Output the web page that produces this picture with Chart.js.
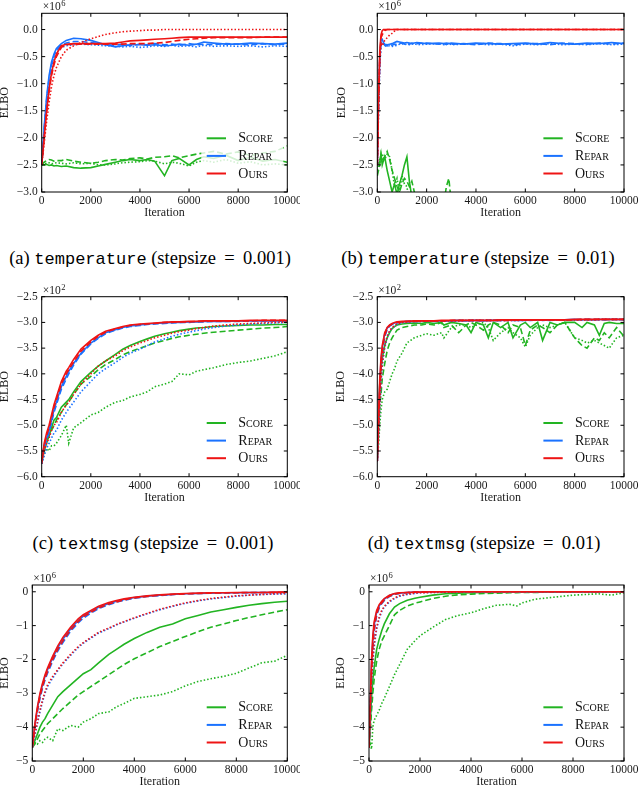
<!DOCTYPE html>
<html><head><meta charset="utf-8">
<script src="https://cdn.jsdelivr.net/npm/chart.js@4.4.1/dist/chart.umd.min.js"></script>
<style>
html,body{margin:0;padding:0;background:#fff;overflow:hidden;}
#fig{position:relative;width:640px;height:787px;overflow:hidden;background:#fff;}
canvas{position:absolute;}
.cap{position:absolute;font-family:'Liberation Serif','Times New Roman',serif;font-size:18.5px;white-space:nowrap;transform:translateX(-50%);color:#000;line-height:20px;}
.cap .tt{font-family:'Liberation Mono','Courier New',monospace;font-size:17px;}
</style></head><body>
<div id="fig">
<canvas id="pa"></canvas><canvas id="pb"></canvas>
<canvas id="pc"></canvas><canvas id="pd"></canvas>
<canvas id="pe"></canvas><canvas id="pf"></canvas>
<div class="cap" style="left:150px;top:248px">(a) <span class="tt">temperature</span> (stepsize&#8201; = &#8201;0.001)</div>
<div class="cap" style="left:478px;top:248px">(b) <span class="tt">temperature</span> (stepsize&#8201; = &#8201;0.01)</div>
<div class="cap" style="left:153px;top:533px">(c) <span class="tt">textmsg</span> (stepsize&#8201; = &#8201;0.001)</div>
<div class="cap" style="left:484px;top:533px">(d) <span class="tt">textmsg</span> (stepsize&#8201; = &#8201;0.01)</div>
</div>
<script>
// ---------- common ----------
const methodNames = ['Score', 'Repar', 'Ours'];
const styleNames = ['solid', 'dashed', 'dotted'];
const xTickLabels = ['0', '2000', '4000', '6000', '8000', '10000'];
const yTicksTemperature = [-3.0, -2.5, -2.0, -1.5, -1.0, -0.5, 0.0];
const yTicksTextmsg = [-6.0, -5.5, -5.0, -4.5, -4.0, -3.5, -3.0, -2.5];
const yTicksThird = [-5, -4, -3, -2, -1, 0];

// ---------- (a) temperature, stepsize 0.001 (x1e6) ----------
const aIter = [0,100,200,300,400,500,600,800,1000,1300,1600,2000,2300,2600,3000,3300,3600,4000,4300,4600,5000,5300,5600,6000,6300,6600,7000,7500,8000,8500,9000,9500,10000];
const aScoreSolid  = [-2.5,-2.5,-2.49,-2.51,-2.5,-2.52,-2.51,-2.53,-2.52,-2.55,-2.56,-2.55,-2.52,-2.49,-2.45,-2.42,-2.4,-2.42,-2.4,-2.43,-2.7,-2.42,-2.38,-2.5,-2.4,-2.35,-2.38,-2.32,-2.42,-2.36,-2.43,-2.4,-2.45];
const aScoreDashed = [-2.5,-2.45,-2.42,-2.4,-2.41,-2.43,-2.42,-2.42,-2.4,-2.43,-2.45,-2.47,-2.45,-2.42,-2.4,-2.41,-2.38,-2.37,-2.39,-2.36,-2.35,-2.33,-2.37,-2.33,-2.3,-2.28,-2.25,-2.3,-2.26,-2.33,-2.28,-2.25,-2.15];
const aScoreDotted = [-2.5,-2.48,-2.47,-2.46,-2.48,-2.47,-2.46,-2.47,-2.48,-2.46,-2.48,-2.47,-2.5,-2.5,-2.48,-2.46,-2.45,-2.44,-2.42,-2.43,-2.48,-2.45,-2.47,-2.52,-2.45,-2.42,-2.45,-2.4,-2.47,-2.44,-2.5,-2.48,-2.5];
const aReparSolid  = [-2.5,-1.8,-1.25,-0.85,-0.6,-0.45,-0.35,-0.26,-0.2,-0.16,-0.17,-0.2,-0.24,-0.28,-0.32,-0.3,-0.28,-0.28,-0.29,-0.28,-0.3,-0.29,-0.27,-0.29,-0.27,-0.23,-0.25,-0.27,-0.27,-0.25,-0.26,-0.27,-0.25];
const aReparDashed = [-2.5,-1.85,-1.3,-0.9,-0.65,-0.48,-0.38,-0.29,-0.25,-0.22,-0.22,-0.24,-0.26,-0.28,-0.29,-0.27,-0.3,-0.27,-0.28,-0.26,-0.28,-0.27,-0.29,-0.26,-0.28,-0.27,-0.28,-0.26,-0.27,-0.28,-0.26,-0.28,-0.27];
const aReparDotted = [-2.5,-1.9,-1.4,-1.0,-0.72,-0.55,-0.43,-0.33,-0.3,-0.28,-0.27,-0.28,-0.29,-0.3,-0.31,-0.32,-0.31,-0.33,-0.32,-0.3,-0.31,-0.29,-0.31,-0.3,-0.32,-0.29,-0.31,-0.3,-0.31,-0.3,-0.32,-0.3,-0.31];
const aOursSolid   = [-2.5,-2.0,-1.5,-1.1,-0.8,-0.6,-0.45,-0.3,-0.27,-0.26,-0.26,-0.26,-0.26,-0.26,-0.25,-0.23,-0.21,-0.2,-0.19,-0.18,-0.17,-0.16,-0.15,-0.14,-0.14,-0.14,-0.14,-0.14,-0.14,-0.14,-0.14,-0.14,-0.14];
const aOursDashed  = [-2.5,-2.0,-1.55,-1.15,-0.85,-0.65,-0.5,-0.33,-0.28,-0.27,-0.27,-0.27,-0.27,-0.27,-0.27,-0.27,-0.26,-0.26,-0.26,-0.25,-0.24,-0.22,-0.2,-0.18,-0.17,-0.16,-0.15,-0.15,-0.15,-0.15,-0.14,-0.14,-0.14];
const aOursDotted  = [-2.5,-2.1,-1.7,-1.35,-1.05,-0.85,-0.7,-0.5,-0.38,-0.3,-0.24,-0.17,-0.13,-0.09,-0.06,-0.04,-0.03,-0.02,-0.01,-0.01,0,0,0,0,0,0,0,0,0,0,0,0,0];

// ---------- (b) temperature, stepsize 0.01 (x1e6) ----------
const bIter = [0,50,100,150,200,250,300,400,500,600,700,800,900,1000,1100,1200,1300,1400,1500,1600,2000,2500,2700,2800,2900,3000,3500,4000,4500,5000,5500,6000,6500,7000,7500,8000,8500,9000,9500,10000];
const bScoreSolid  = [-2.5,-2.48,-2.45,-2.3,-2.5,-2.42,-2.35,-2.6,-2.8,-3.0,-2.85,-3.05,-2.85,-2.7,-2.5,-2.35,-2.8,-3.1,-3.5,null,null,null,null,null,null,null,null,null,null,null,null,null,null,null,null,null,null,null,null,null];
const bScoreDashed = [-2.7,-2.6,-2.5,-2.3,-2.4,-2.38,-2.35,-2.25,-2.4,-2.6,-2.75,-2.9,-3.0,-2.85,-2.75,-2.8,-2.9,-2.8,-3.0,-3.3,null,null,-3.2,-2.9,-2.75,-3.2,null,null,null,null,null,null,null,null,null,null,null,null,null,null];
const bScoreDotted = [-2.6,-2.5,-2.4,-2.35,-2.3,-2.35,-2.4,-2.3,-2.35,-2.6,-2.9,-2.75,-3.0,-2.7,-2.85,-2.9,-3.2,null,null,null,null,null,null,null,null,null,null,null,null,null,null,null,null,null,null,null,null,null,null,null];
const bReparSolid  = [-2.5,-1.3,-0.5,-0.2,-0.18,-0.24,-0.27,-0.28,-0.27,-0.26,-0.24,-0.22,-0.23,-0.24,-0.25,-0.24,-0.25,-0.26,-0.25,-0.24,-0.26,-0.25,-0.26,-0.25,-0.26,-0.25,-0.27,-0.25,-0.26,-0.27,-0.26,-0.25,-0.27,-0.24,-0.26,-0.27,-0.25,-0.26,-0.24,-0.26];
const bReparDashed = [-2.5,-1.4,-0.6,-0.25,-0.22,-0.26,-0.29,-0.3,-0.28,-0.29,-0.27,-0.28,-0.26,-0.25,-0.27,-0.26,-0.27,-0.25,-0.27,-0.26,-0.25,-0.27,-0.26,-0.28,-0.25,-0.27,-0.26,-0.28,-0.25,-0.26,-0.28,-0.26,-0.26,-0.28,-0.25,-0.26,-0.27,-0.25,-0.27,-0.25];
const bReparDotted = [-2.5,-1.5,-0.7,-0.3,-0.25,-0.27,-0.3,-0.31,-0.3,-0.31,-0.3,-0.29,-0.27,-0.26,-0.28,-0.27,-0.28,-0.27,-0.26,-0.28,-0.27,-0.26,-0.28,-0.27,-0.26,-0.28,-0.27,-0.26,-0.28,-0.27,-0.3,-0.27,-0.28,-0.26,-0.28,-0.27,-0.28,-0.26,-0.28,-0.27];
const bOursSolid   = [-2.5,-1.2,-0.4,-0.1,-0.02,0,0,0,0,0,0,0,0,0,0,0,0,0,0,0,0,0,0,0,0,0,0,0,0,0,0,0,0,0,0,0,0,0,0,0];
const bOursDashed  = [-2.5,-1.4,-0.5,-0.15,-0.1,-0.05,-0.02,0,0,0,0,0,0,0,0,0,0,0,0,0,0,0,0,0,0,0,0,0,0,0,0,0,0,0,0,0,0,0,0,0];
const bOursDotted  = [-2.5,-1.5,-0.6,-0.25,-0.3,-0.25,-0.2,-0.15,-0.1,-0.07,-0.03,0,0,0,0,0,0,0,0,0,0,0,0,0,0,0,0,0,0,0,0,0,0,0,0,0,0,0,0,0];

// ---------- (c) textmsg, stepsize 0.001 (x1e2) ----------
const cIter = [0,100,200,300,400,500,600,800,1000,1100,1300,1600,2000,2300,2600,3000,3300,3600,4000,4300,4600,5000,5300,5600,6000,6300,6600,7000,7500,8000,8500,9000,9500,10000];
const cScoreSolid  = [-5.7,-5.5,-5.35,-5.2,-5.05,-4.9,-4.85,-4.65,-4.55,-4.5,-4.35,-4.15,-3.97,-3.85,-3.75,-3.62,-3.52,-3.45,-3.37,-3.32,-3.27,-3.22,-3.19,-3.16,-3.13,-3.11,-3.1,-3.08,-3.07,-3.06,-3.05,-3.05,-3.04,-3.04];
const cScoreDashed = [-5.6,-5.4,-5.3,-5.2,-5.1,-5.0,-4.9,-4.75,-4.6,-4.55,-4.4,-4.2,-4.05,-3.92,-3.82,-3.72,-3.63,-3.57,-3.5,-3.45,-3.4,-3.35,-3.31,-3.28,-3.25,-3.23,-3.21,-3.19,-3.17,-3.15,-3.13,-3.11,-3.1,-3.08];
const cScoreDotted = [-5.75,-5.55,-5.45,-5.5,-5.4,-5.4,-5.35,-5.2,-5.0,-5.35,-5.05,-4.95,-4.8,-4.75,-4.65,-4.55,-4.52,-4.45,-4.4,-4.35,-4.25,-4.2,-4.15,-4.0,-4.02,-3.95,-3.92,-3.88,-3.82,-3.78,-3.75,-3.7,-3.65,-3.57];
const cReparSolid  = [-5.7,-5.4,-5.25,-5.1,-4.9,-4.7,-4.55,-4.25,-4.05,-3.95,-3.8,-3.6,-3.4,-3.3,-3.2,-3.14,-3.1,-3.07,-3.05,-3.03,-3.02,-3.01,-3.0,-3.0,-2.99,-2.99,-2.98,-2.98,-2.98,-2.97,-2.97,-2.97,-2.97,-2.97];
const cReparDashed = [-5.75,-5.45,-5.3,-5.15,-4.95,-4.75,-4.6,-4.3,-4.1,-4.0,-3.83,-3.62,-3.42,-3.31,-3.22,-3.15,-3.11,-3.08,-3.06,-3.04,-3.03,-3.02,-3.01,-3.0,-3.0,-2.99,-2.99,-2.98,-2.98,-2.98,-2.97,-2.97,-2.97,-2.97];
const cReparDotted = [-5.75,-5.6,-5.45,-5.35,-5.25,-5.15,-5.1,-4.9,-4.75,-4.68,-4.55,-4.35,-4.15,-4.0,-3.9,-3.78,-3.68,-3.6,-3.52,-3.45,-3.38,-3.32,-3.27,-3.23,-3.19,-3.16,-3.13,-3.1,-3.07,-3.05,-3.03,-3.02,-3.01,-3.0];
const cOursSolid   = [-5.75,-5.35,-5.15,-5.0,-4.8,-4.6,-4.45,-4.15,-3.95,-3.88,-3.72,-3.52,-3.35,-3.25,-3.17,-3.12,-3.08,-3.05,-3.03,-3.02,-3.01,-3.0,-2.99,-2.99,-2.98,-2.98,-2.97,-2.97,-2.97,-2.97,-2.96,-2.96,-2.96,-2.96];
const cOursDashed  = [-5.7,-5.4,-5.2,-5.05,-4.85,-4.65,-4.5,-4.2,-4.0,-3.92,-3.77,-3.56,-3.38,-3.27,-3.19,-3.13,-3.09,-3.06,-3.04,-3.03,-3.02,-3.0,-3.0,-2.99,-2.99,-2.98,-2.98,-2.97,-2.97,-2.97,-2.97,-2.96,-2.96,-2.96];
const cOursDotted  = [-5.7,-5.5,-5.35,-5.25,-5.1,-5.0,-4.95,-4.75,-4.6,-4.55,-4.4,-4.2,-4.0,-3.85,-3.75,-3.65,-3.55,-3.48,-3.4,-3.35,-3.3,-3.25,-3.21,-3.18,-3.15,-3.12,-3.1,-3.07,-3.05,-3.03,-3.02,-3.01,-3.0,-2.99];

// ---------- (d) textmsg, stepsize 0.01 (x1e2) ----------
const dIter = [0,50,100,150,200,300,400,500,600,700,800,1000,1200,1500,1800,2000,2300,2600,2700,3000,3300,3600,3800,4000,4300,4500,4700,5000,5300,5500,5800,6000,6200,6500,6700,7000,7300,7600,8000,8300,8500,8800,9000,9200,9400,9700,10000];
const dScoreSolid  = [-5.6,-4.8,-4.2,-3.9,-3.7,-3.45,-3.3,-3.2,-3.12,-3.08,-3.05,-3.03,-3.02,-3.01,-3.02,-3.0,-3.02,-3.0,-3.05,-3.0,-3.02,-3.05,-3.2,-3.0,-3.05,-3.3,-3.0,-3.1,-3.0,-3.3,-3.05,-3.0,-3.1,-3.0,-3.35,-3.0,-3.05,-3.0,-3.0,-3.1,-3.0,-3.05,-3.25,-3.02,-3.0,-3.02,-3.02];
const dScoreDashed = [-5.6,-5.0,-4.6,-4.4,-4.1,-3.8,-3.55,-3.4,-3.3,-3.22,-3.15,-3.1,-3.08,-3.05,-3.05,-3.03,-3.05,-3.0,-3.1,-3.05,-3.2,-3.05,-3.0,-3.05,-3.15,-3.05,-3.0,-3.05,-3.2,-3.05,-3.1,-3.45,-3.15,-3.05,-3.1,-3.2,-3.05,-3.0,-3.3,-3.45,-3.5,-3.3,-3.35,-3.2,-3.3,-3.1,-3.27];
const dScoreDotted = [-5.65,-5.4,-5.0,-4.7,-4.5,-4.35,-4.3,-4.15,-4.0,-3.9,-3.75,-3.6,-3.4,-3.3,-3.25,-3.22,-3.25,-3.2,-3.3,-3.1,-3.05,-3.05,-3.1,-3.05,-3.0,-3.1,-3.35,-3.2,-3.1,-3.2,-3.3,-3.48,-3.25,-3.1,-3.05,-3.1,-3.05,-3.0,-3.3,-3.35,-3.4,-3.35,-3.4,-3.45,-3.5,-3.3,-3.25];
const dReparSolid  = [-5.7,-4.9,-4.2,-3.75,-3.5,-3.22,-3.11,-3.06,-3.03,-3.01,-3.0,-2.99,-2.98,-2.98,-2.97,-2.97,-2.97,-2.97,-2.97,-2.97,-2.96,-2.97,-2.96,-2.96,-2.97,-2.96,-2.96,-2.96,-2.95,-2.96,-2.96,-2.95,-2.96,-2.95,-2.95,-2.96,-2.95,-2.95,-2.94,-2.95,-2.94,-2.95,-2.94,-2.95,-2.94,-2.94,-2.95];
const dReparDashed = [-5.7,-5.0,-4.35,-3.9,-3.6,-3.28,-3.14,-3.07,-3.04,-3.02,-3.01,-2.99,-2.99,-2.98,-2.98,-2.97,-2.98,-2.97,-2.97,-2.97,-2.96,-2.97,-2.96,-2.97,-2.96,-2.96,-2.96,-2.96,-2.96,-2.95,-2.96,-2.96,-2.95,-2.95,-2.96,-2.95,-2.95,-2.95,-2.95,-2.94,-2.95,-2.94,-2.95,-2.94,-2.95,-2.94,-2.94];
const dReparDotted = [-5.7,-5.25,-4.7,-4.2,-3.85,-3.5,-3.3,-3.18,-3.11,-3.07,-3.04,-3.01,-2.99,-2.98,-2.98,-2.98,-2.97,-2.97,-2.97,-2.97,-2.97,-2.96,-2.97,-2.96,-2.96,-2.96,-2.96,-2.96,-2.96,-2.96,-2.96,-2.96,-2.95,-2.95,-2.95,-2.95,-2.95,-2.95,-2.95,-2.95,-2.94,-2.95,-2.94,-2.94,-2.94,-2.94,-2.94];
const dOursSolid   = [-5.7,-4.8,-4.1,-3.7,-3.45,-3.2,-3.1,-3.05,-3.02,-3.0,-2.99,-2.98,-2.98,-2.97,-2.97,-2.97,-2.97,-2.96,-2.96,-2.96,-2.96,-2.96,-2.96,-2.96,-2.96,-2.96,-2.96,-2.95,-2.95,-2.95,-2.95,-2.95,-2.95,-2.95,-2.95,-2.95,-2.95,-2.95,-2.94,-2.94,-2.94,-2.94,-2.94,-2.94,-2.94,-2.94,-2.94];
const dOursDashed  = [-5.7,-5.0,-4.3,-3.85,-3.55,-3.25,-3.12,-3.06,-3.03,-3.01,-3.0,-2.99,-2.98,-2.98,-2.97,-2.97,-2.97,-2.97,-2.97,-2.96,-2.96,-2.96,-2.96,-2.96,-2.96,-2.96,-2.96,-2.96,-2.96,-2.95,-2.95,-2.95,-2.95,-2.95,-2.95,-2.95,-2.95,-2.95,-2.95,-2.94,-2.94,-2.94,-2.94,-2.94,-2.94,-2.94,-2.94];
const dOursDotted  = [-5.7,-5.2,-4.6,-4.1,-3.8,-3.45,-3.27,-3.16,-3.1,-3.06,-3.03,-3.0,-2.99,-2.98,-2.98,-2.97,-2.97,-2.97,-2.97,-2.97,-2.97,-2.96,-2.96,-2.96,-2.96,-2.96,-2.96,-2.96,-2.96,-2.96,-2.96,-2.95,-2.95,-2.95,-2.95,-2.95,-2.95,-2.95,-2.95,-2.95,-2.95,-2.95,-2.94,-2.94,-2.94,-2.94,-2.94];

// ---------- (e) stepsize 0.001 (x1e6) ----------
const eIter = [0,100,200,300,400,500,600,800,1000,1200,1500,1800,2000,2300,2600,3000,3300,3600,4000,4500,5000,5500,6000,6500,7000,7500,8000,8500,9000,9500,10000];
const eScoreSolid  = [-4.6,-4.4,-4.2,-4.0,-3.85,-3.75,-3.6,-3.35,-3.1,-2.95,-2.75,-2.55,-2.42,-2.3,-2.1,-1.85,-1.7,-1.55,-1.38,-1.2,-1.05,-0.95,-0.8,-0.7,-0.6,-0.53,-0.46,-0.4,-0.35,-0.31,-0.28];
const eScoreDashed = [-4.6,-4.5,-4.35,-4.2,-4.1,-4.0,-3.9,-3.75,-3.6,-3.45,-3.25,-3.05,-2.95,-2.8,-2.65,-2.45,-2.3,-2.15,-1.98,-1.8,-1.62,-1.47,-1.32,-1.18,-1.05,-0.95,-0.85,-0.76,-0.68,-0.6,-0.53];
const eScoreDotted = [-4.55,-4.45,-4.5,-4.4,-4.45,-4.35,-4.3,-4.4,-4.05,-4.1,-3.95,-4.0,-3.85,-3.75,-3.6,-3.55,-3.4,-3.3,-3.15,-3.1,-3.05,-2.95,-2.78,-2.65,-2.57,-2.5,-2.41,-2.25,-2.1,-2.05,-1.88];
const eReparSolid  = [-4.6,-3.95,-3.45,-3.05,-2.75,-2.5,-2.3,-1.95,-1.65,-1.4,-1.1,-0.85,-0.72,-0.58,-0.46,-0.35,-0.28,-0.23,-0.17,-0.13,-0.1,-0.08,-0.06,-0.05,-0.04,-0.03,-0.03,-0.02,-0.02,-0.02,-0.01];
const eReparDashed = [-4.6,-4.0,-3.55,-3.15,-2.85,-2.6,-2.4,-2.05,-1.75,-1.5,-1.17,-0.92,-0.78,-0.63,-0.5,-0.38,-0.31,-0.25,-0.19,-0.14,-0.11,-0.08,-0.06,-0.05,-0.04,-0.04,-0.03,-0.03,-0.02,-0.02,-0.02];
const eReparDotted = [-4.6,-4.25,-3.9,-3.55,-3.25,-3.0,-2.8,-2.55,-2.33,-2.13,-1.88,-1.65,-1.52,-1.37,-1.22,-1.09,-0.98,-0.89,-0.78,-0.65,-0.53,-0.43,-0.34,-0.27,-0.21,-0.17,-0.13,-0.1,-0.08,-0.07,-0.06];
const eOursSolid   = [-4.6,-3.9,-3.4,-3.0,-2.7,-2.45,-2.25,-1.9,-1.6,-1.35,-1.05,-0.8,-0.68,-0.55,-0.43,-0.32,-0.26,-0.21,-0.16,-0.12,-0.09,-0.07,-0.05,-0.04,-0.03,-0.03,-0.02,-0.02,-0.02,-0.01,-0.01];
const eOursDashed  = [-4.6,-3.95,-3.5,-3.1,-2.8,-2.55,-2.35,-2.0,-1.7,-1.45,-1.13,-0.88,-0.74,-0.6,-0.48,-0.36,-0.3,-0.24,-0.18,-0.14,-0.1,-0.08,-0.06,-0.05,-0.04,-0.03,-0.03,-0.02,-0.02,-0.02,-0.01];
const eOursDotted  = [-4.6,-4.2,-3.85,-3.5,-3.2,-2.95,-2.75,-2.5,-2.3,-2.1,-1.85,-1.62,-1.5,-1.35,-1.2,-1.07,-0.97,-0.88,-0.77,-0.64,-0.52,-0.42,-0.33,-0.26,-0.2,-0.16,-0.12,-0.1,-0.08,-0.06,-0.05];

// ---------- (f) stepsize 0.01 (x1e6) ----------
const fIter = [0,50,100,150,200,300,400,500,600,800,1000,1200,1500,1800,2000,2500,3000,3500,4000,4500,5000,5500,5800,6000,6500,7000,7500,8000,8500,9000,9500,10000];
const fScoreSolid  = [-4.6,-3.9,-3.1,-2.6,-2.25,-1.7,-1.4,-1.15,-0.95,-0.65,-0.45,-0.35,-0.25,-0.19,-0.16,-0.1,-0.06,-0.04,-0.03,-0.02,-0.02,-0.01,-0.01,-0.01,-0.01,0,0,0,0,0,0,0];
const fScoreDashed = [-4.6,-4.1,-3.5,-3.0,-2.6,-2.05,-1.7,-1.45,-1.3,-1.0,-0.68,-0.55,-0.42,-0.34,-0.3,-0.2,-0.13,-0.09,-0.07,-0.05,-0.04,-0.03,-0.03,-0.02,-0.02,-0.01,-0.01,-0.01,0,0,0,0];
const fScoreDotted = [-4.6,-4.5,-4.65,-4.0,-3.8,-3.65,-3.5,-3.3,-3.15,-2.8,-2.45,-2.15,-1.7,-1.45,-1.3,-1.05,-0.82,-0.7,-0.62,-0.5,-0.4,-0.37,-0.42,-0.33,-0.22,-0.18,-0.14,-0.1,-0.08,-0.06,-0.1,-0.03];
const fReparSolid  = [-4.6,-3.3,-2.15,-1.4,-1.0,-0.6,-0.42,-0.3,-0.22,-0.11,-0.06,-0.04,-0.02,-0.01,-0.01,0,0,0,0,0,0,0,0,0,0,0,0,0,0,0,0,0];
const fReparDashed = [-4.6,-3.5,-2.4,-1.65,-1.2,-0.7,-0.48,-0.35,-0.26,-0.14,-0.08,-0.05,-0.03,-0.02,-0.01,0,0,0,0,0,0,0,0,0,0,0,0,0,0,0,0,0];
const fReparDotted = [-4.6,-3.7,-2.7,-2.1,-1.65,-1.1,-0.8,-0.58,-0.45,-0.3,-0.2,-0.13,-0.08,-0.05,-0.03,-0.02,-0.01,-0.01,0,0,0,0,0,0,0,0,0,0,0,0,0,0];
const fOursSolid   = [-4.6,-3.2,-2.0,-1.3,-0.9,-0.55,-0.38,-0.28,-0.2,-0.1,-0.05,-0.03,-0.02,-0.01,-0.01,0,0,0,0,0,0,0,0,0,0,0,0,0,0,0,0,0];
const fOursDashed  = [-4.6,-3.4,-2.3,-1.55,-1.1,-0.65,-0.45,-0.33,-0.24,-0.13,-0.07,-0.04,-0.02,-0.01,-0.01,0,0,0,0,0,0,0,0,0,0,0,0,0,0,0,0,0];
const fOursDotted  = [-4.6,-3.6,-2.6,-2.0,-1.55,-1.05,-0.75,-0.55,-0.43,-0.28,-0.18,-0.12,-0.07,-0.04,-0.03,-0.02,-0.01,-0.01,0,0,0,0,0,0,0,0,0,0,0,0,0,0];

// ---------- styling (kept apart from data) ----------
const methodColors = ['#22b422', '#1a72ff', '#ee1414'];
const dashPatterns = {solid: [], dashed: [6, 3], dotted: [1.5, 2]};
const serif = "'Liberation Serif', 'Times New Roman', serif";

const panels = [
  {canvas:'pa', x:aIter, s:[[aScoreSolid,aScoreDashed,aScoreDotted],[aReparSolid,aReparDashed,aReparDotted],[aOursSolid,aOursDashed,aOursDotted]],
   yMin:-3, yMax:0.3, yTicks:yTicksTemperature, dec:1, exp:'6', box:[0,0,300,221], area:[41.7,13.3,287.3,192], titleX:5},
  {canvas:'pb', x:bIter, s:[[bScoreSolid,bScoreDashed,bScoreDotted],[bReparSolid,bReparDashed,bReparDotted],[bOursSolid,bOursDashed,bOursDotted]],
   yMin:-3, yMax:0.3, yTicks:yTicksTemperature, dec:1, exp:'6', box:[320,0,320,221], area:[377.3,13.3,624,192], titleX:341.5},
  {canvas:'pc', x:cIter, s:[[cScoreSolid,cScoreDashed,cScoreDotted],[cReparSolid,cReparDashed,cReparDotted],[cOursSolid,cOursDashed,cOursDotted]],
   yMin:-6, yMax:-2.5, yTicks:yTicksTextmsg, dec:1, exp:'2', box:[0,270,300,236], area:[41.7,296.7,287.3,476.7], titleX:5},
  {canvas:'pd', x:dIter, s:[[dScoreSolid,dScoreDashed,dScoreDotted],[dReparSolid,dReparDashed,dReparDotted],[dOursSolid,dOursDashed,dOursDotted]],
   yMin:-6, yMax:-2.5, yTicks:yTicksTextmsg, dec:1, exp:'2', box:[320,270,320,236], area:[377.3,296.7,624,476.7], titleX:341},
  {canvas:'pe', x:eIter, s:[[eScoreSolid,eScoreDashed,eScoreDotted],[eReparSolid,eReparDashed,eReparDotted],[eOursSolid,eOursDashed,eOursDotted]],
   yMin:-5, yMax:0.2, yTicks:yTicksThird, dec:0, exp:'6', box:[0,560,300,230], area:[32.3,585,287.3,761], titleX:5},
  {canvas:'pf', x:fIter, s:[[fScoreSolid,fScoreDashed,fScoreDotted],[fReparSolid,fReparDashed,fReparDotted],[fOursSolid,fOursDashed,fOursDotted]],
   yMin:-5, yMax:0.2, yTicks:yTicksThird, dec:0, exp:'6', box:[320,560,320,230], area:[369,585,624,761], titleX:341}
];

const decorPlugin = {
  id: 'decor',
  afterDatasetsDraw(chart) {
    const {ctx, chartArea: {right, bottom}} = chart;
    ctx.save();
    ctx.fillStyle = 'rgba(255,255,255,0.8)';
    ctx.fillRect(right - 86, bottom - 62, 82, 53);
    methodNames.forEach((name, i) => {
      const y = bottom - 53.7 + i * 17.6;
      ctx.strokeStyle = methodColors[i];
      ctx.lineWidth = 2;
      ctx.setLineDash([]);
      ctx.beginPath(); ctx.moveTo(right - 80.6, y); ctx.lineTo(right - 61.3, y); ctx.stroke();
      ctx.fillStyle = '#111';
      ctx.font = "small-caps 14px " + serif;
      ctx.textBaseline = 'middle';
      ctx.textAlign = 'left';
      ctx.fillText(name, right - 49, y + 0.5);
    });
    ctx.restore();
  },
  afterDraw(chart, args, opts) {
    const {ctx, chartArea: {left, top, right, bottom}, scales} = chart;
    ctx.save();
    ctx.strokeStyle = '#000';
    ctx.lineWidth = 1;
    ctx.setLineDash([]);
    ctx.strokeRect(left, top, right - left, bottom - top);
    const tl = 3.5;
    ctx.beginPath();
    scales.x.ticks.forEach(t => {
      const px = scales.x.getPixelForValue(t.value);
      ctx.moveTo(px, bottom); ctx.lineTo(px, bottom - tl);
      ctx.moveTo(px, top); ctx.lineTo(px, top + tl);
    });
    scales.y.ticks.forEach(t => {
      const py = scales.y.getPixelForValue(t.value);
      ctx.moveTo(left, py); ctx.lineTo(left + tl, py);
      ctx.moveTo(right, py); ctx.lineTo(right - tl, py);
    });
    ctx.stroke();
    ctx.fillStyle = '#1a1a1a';
    ctx.textBaseline = 'alphabetic';
    ctx.textAlign = 'left';
    ctx.font = "11.5px " + serif;
    ctx.fillText('\u00d710', left + 1, top - 3);
    const w = ctx.measureText('\u00d710').width;
    ctx.font = "8.5px " + serif;
    ctx.fillText(opts.exp, left + 1.5 + w, top - 7);
    ctx.restore();
  }
};

panels.forEach(p => {
  const cv = document.getElementById(p.canvas);
  const [cl, ct, cw, ch] = p.box;
  cv.style.left = cl + 'px'; cv.style.top = ct + 'px';
  cv.style.width = cw + 'px'; cv.style.height = ch + 'px';
  cv.width = cw; cv.height = ch;
  const [L, T, R, B] = p.area;
  const yW = L - cl, xH = ct + ch - B, padT = T - ct, padR = cl + cw - R;
  const datasets = [];
  p.s.forEach((group, mi) => group.forEach((vals, si) => {
    datasets.push({
      label: methodNames[mi] + ' (' + styleNames[si] + ')',
      data: p.x.map((x, i) => ({x: x, y: vals[i]})),
      borderColor: methodColors[mi],
      borderWidth: 1.6,
      borderDash: dashPatterns[styleNames[si]],
      borderCapStyle: 'butt',
      pointRadius: 0,
      tension: 0,
      fill: false,
      spanGaps: false,
      order: 2 - mi
    });
  }));
  new Chart(cv, {
    type: 'line',
    data: {datasets},
    options: {
      responsive: false,
      animation: false,
      layout: {padding: {top: padT, right: padR, left: 0, bottom: 0}},
      plugins: {legend: {display: false}, tooltip: {enabled: false}, decor: {exp: p.exp}},
      scales: {
        x: {
          type: 'linear', min: 0, max: 10000,
          afterFit(s) { s.height = xH; s.paddingLeft = 0; s.paddingRight = 0; },
          afterBuildTicks(s) { s.ticks = xTickLabels.map(v => ({value: Number(v)})); },
          ticks: {padding: 2, color: '#1a1a1a', autoSkip: false, maxRotation: 0,
                  font: {family: serif, size: 11.5}, callback: v => String(v)},
          grid: {display: false, drawTicks: false},
          border: {display: false},
          title: {display: true, text: 'Iteration', color: '#1a1a1a', font: {family: serif, size: 12},
                  padding: {top: 0, bottom: xH - 21 - 7.2}}
        },
        y: {
          type: 'linear', min: p.yMin, max: p.yMax,
          afterFit(s) { s.width = yW; s.paddingTop = 0; s.paddingBottom = 0; },
          afterBuildTicks(s) { s.ticks = p.yTicks.map(v => ({value: v})); },
          ticks: {padding: 4, color: '#1a1a1a', autoSkip: false, font: {family: serif, size: 11.5},
                  callback: v => (Math.abs(v) < 1e-9 ? (0).toFixed(p.dec) : v.toFixed(p.dec).replace('-', '\u2212'))},
          grid: {display: false, drawTicks: false},
          border: {display: false},
          title: {display: true, text: 'ELBO', color: '#1a1a1a', font: {family: serif, size: 12},
                  padding: {top: p.titleX - cl - 7.2, bottom: 0}}
        }
      }
    },
    plugins: [decorPlugin]
  });
});
</script>
</body></html>
